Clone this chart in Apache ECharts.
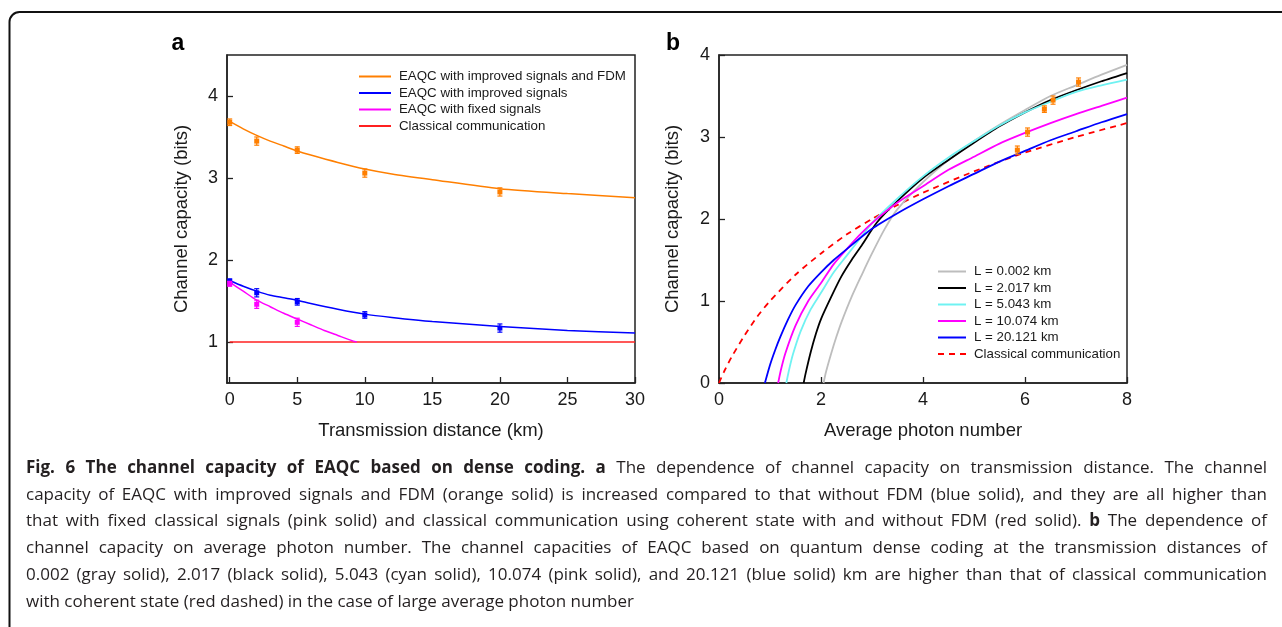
<!DOCTYPE html>
<html>
<head>
<meta charset="utf-8">
<script src="https://cdn.jsdelivr.net/npm/echarts@6/dist/echarts.min.js"></script>
<style>
html,body{margin:0;padding:0;background:#fff;}
#chart{width:1282px;height:627px;}
</style>
</head>
<body>
<div id="chart"></div>
<script>
// ---------- Panel a data ----------
const distTicks = [0, 5, 10, 15, 20, 25, 30];
const capTicksA = [1, 2, 3, 4];
const fdmX = [0, 1, 2, 3, 4, 5, 6, 8, 10, 12, 15, 20, 25, 30];
const fdmY = [3.69, 3.60, 3.52, 3.45, 3.39, 3.33, 3.28, 3.19, 3.11, 3.05, 2.98, 2.87, 2.81, 2.76];
const impX = [0, 1, 2, 3, 4, 5, 6, 8, 10, 12, 15, 20, 25, 30];
const impY = [1.75, 1.68, 1.62, 1.57, 1.54, 1.51, 1.47, 1.40, 1.34, 1.30, 1.25, 1.19, 1.14, 1.11];
const fixX = [0, 1, 2, 3, 4, 5, 6, 7, 8, 9, 9.4];
const fixY = [1.73, 1.62, 1.51, 1.43, 1.35, 1.28, 1.21, 1.14, 1.08, 1.02, 1.0];
const clsX = [0, 30];
const clsY = [1, 1];
// measured points [x, y, err]
const fdmPts = [[0, 3.68, 0.04], [2, 3.45, 0.05], [5, 3.34, 0.04], [10, 3.06, 0.05], [20, 2.83, 0.05]];
const impPts = [[0, 1.74, 0.03], [2, 1.60, 0.05], [5, 1.49, 0.04], [10, 1.33, 0.04], [20, 1.17, 0.05]];
const fixPts = [[0, 1.71, 0.03], [2, 1.46, 0.05], [5, 1.24, 0.05]];
const namesA = ['EAQC with improved signals and FDM', 'EAQC with improved signals', 'EAQC with fixed signals', 'Classical communication'];

// ---------- Panel b data ----------
const photonTicks = [0, 2, 4, 6, 8];
const capTicksB = [0, 1, 2, 3, 4];
const l0X = [2.05, 2.1, 2.2, 2.3, 2.4, 2.6, 2.8, 3.0, 3.25, 3.5, 4, 4.5, 5, 5.5, 6, 6.5, 7, 7.5, 8];
const l0Y = [0, 0.14, 0.36, 0.56, 0.74, 1.05, 1.32, 1.58, 1.88, 2.12, 2.45, 2.72, 2.95, 3.15, 3.33, 3.5, 3.63, 3.76, 3.88];
const l2X = [1.66, 1.7, 1.8, 1.9, 2.0, 2.2, 2.4, 2.6, 2.8, 3.1, 3.5, 4, 4.5, 5, 5.5, 6, 6.5, 7, 7.5, 8];
const l2Y = [0, 0.12, 0.38, 0.6, 0.78, 1.05, 1.3, 1.5, 1.68, 1.96, 2.22, 2.5, 2.72, 2.93, 3.13, 3.3, 3.45, 3.57, 3.68, 3.78];
const l5X = [1.32, 1.37, 1.45, 1.6, 1.8, 2.0, 2.25, 2.5, 2.75, 3.0, 3.5, 4, 4.5, 5, 5.5, 6, 6.5, 7, 7.5, 8];
const l5Y = [0, 0.15, 0.35, 0.63, 0.9, 1.1, 1.35, 1.55, 1.75, 1.95, 2.25, 2.52, 2.75, 2.95, 3.14, 3.3, 3.43, 3.55, 3.63, 3.70];
const l10X = [1.16, 1.21, 1.3, 1.5, 1.75, 2.0, 2.25, 2.5, 2.75, 3.0, 3.5, 4, 4.5, 5, 5.5, 6, 6.5, 7, 7.5, 8];
const l10Y = [0, 0.15, 0.36, 0.7, 1.0, 1.22, 1.45, 1.63, 1.8, 1.95, 2.2, 2.4, 2.6, 2.76, 2.92, 3.05, 3.17, 3.28, 3.38, 3.48];
const l20X = [0.9, 1.0, 1.1, 1.2, 1.35, 1.5, 1.75, 2.0, 2.25, 2.5, 3.0, 3.5, 4, 4.5, 5, 5.5, 6, 6.5, 7, 7.5, 8];
const l20Y = [0, 0.22, 0.4, 0.56, 0.77, 0.95, 1.18, 1.35, 1.5, 1.63, 1.88, 2.07, 2.24, 2.4, 2.55, 2.7, 2.83, 2.96, 3.07, 3.18, 3.28];
const ccX = [0, 0.1, 0.25, 0.5, 0.75, 1, 1.5, 2, 2.5, 3, 3.5, 4, 5, 6, 7, 8];
const ccY = [0, 0.14, 0.32, 0.58, 0.81, 1.0, 1.32, 1.58, 1.81, 2.0, 2.17, 2.32, 2.58, 2.81, 3.0, 3.17];
const expPts = [[5.85, 2.84, 0.05], [6.05, 3.06, 0.05], [6.38, 3.34, 0.04], [6.55, 3.45, 0.05], [7.05, 3.67, 0.05]];
const namesB = ['L = 0.002 km', 'L = 2.017 km', 'L = 5.043 km', 'L = 10.074 km', 'L = 20.121 km', 'Classical communication '];

// ---------- Caption ----------
const captionLines = [
  [['Fig. 6 The channel capacity of EAQC based on dense coding. a', true], ['The dependence of channel capacity on transmission distance. The channel', false]],
  [['capacity of EAQC with improved signals and FDM (orange solid) is increased compared to that without FDM (blue solid), and they are all higher than', false]],
  [['that with fixed classical signals (pink solid) and classical communication using coherent state with and without FDM (red solid).', false], ['b', true], ['The dependence of', false]],
  [['channel capacity on average photon number. The channel capacities of EAQC based on quantum dense coding at the transmission distances of', false]],
  [['0.002 (gray solid), 2.017 (black solid), 5.043 (cyan solid), 10.074 (pink solid), and 20.121 (blue solid) km are higher than that of classical communication', false]],
  [['with coherent state (red dashed) in the case of large average photon number', false]]
];

const FONT = 'Liberation Sans, Arial, Helvetica, sans-serif';
const TXT = '#1a1a1a';
const zip = (xs, ys) => xs.map((x, i) => [x, ys[i]]);

function errItem(params, api) {
  const x = api.value(0), y = api.value(1), e = api.value(2);
  const p = api.coord([x, y]);
  const hi = api.coord([x, y + e]);
  const lo = api.coord([x, y - e]);
  const col = api.visual('color');
  return {
    type: 'group',
    children: [
      { type: 'line', shape: { x1: p[0], y1: hi[1], x2: p[0], y2: lo[1] }, style: { stroke: col, lineWidth: 1.2 } },
      { type: 'line', shape: { x1: p[0] - 2.5, y1: hi[1], x2: p[0] + 2.5, y2: hi[1] }, style: { stroke: col, lineWidth: 1.2 } },
      { type: 'line', shape: { x1: p[0] - 2.5, y1: lo[1], x2: p[0] + 2.5, y2: lo[1] }, style: { stroke: col, lineWidth: 1.2 } },
      { type: 'rect', shape: { x: p[0] - 2.5, y: p[1] - 2.5, width: 5, height: 5 }, style: { fill: col } }
    ]
  };
}

function lineSeries(name, xs, ys, color, idx, width, dashed) {
  return {
    name: name, type: 'line', xAxisIndex: idx, yAxisIndex: idx,
    data: zip(xs, ys), showSymbol: false, symbol: 'none',
    smooth: 0.25,
    lineStyle: { color: color, width: width, type: dashed ? [6, 5] : 'solid' },
    itemStyle: { color: color }, z: 3, silent: true
  };
}
function ptsSeries(name, pts, color, idx) {
  return {
    name: name, type: 'custom', xAxisIndex: idx, yAxisIndex: idx,
    data: pts, renderItem: errItem, encode: { x: 0, y: 1 },
    itemStyle: { color: color }, z: 5, silent: true
  };
}

function axisCommon(ticks, name, gap, isY) {
  return {
    type: 'value',
    axisLine: { show: true, onZero: false, lineStyle: { color: '#222', width: 1.5 } },
    axisTick: { show: true, inside: true, length: 6, customValues: ticks, lineStyle: { color: '#222', width: 1.3 } },
    axisLabel: { customValues: ticks, fontSize: 18, fontFamily: FONT, color: TXT, margin: isY ? 9 : 8 },
    splitLine: { show: false },
    name: name, nameLocation: 'middle', nameGap: gap,
    nameTextStyle: { fontSize: 18.5, fontFamily: FONT, color: TXT }
  };
}

// caption layout (justified words); font size chosen so the widest line fits
const capLeft = 26, capRight = 1267, capTop = 468, capStep = 26.8, capFont = '"Open Sans", "Noto Sans", sans-serif';
const mctx = document.createElement('canvas').getContext('2d');
function mw(t, b, s) { mctx.font = (b ? 'bold ' : '') + s + 'px ' + capFont; return mctx.measureText(t).width; }
const lineWords = captionLines.map(segs => {
  const words = [];
  segs.forEach(([t, b]) => t.split(' ').filter(s => s).forEach(w => words.push({ w: w, b: b })));
  return words;
});
function naturalWidth(words, s) {
  return words.reduce((a, o) => a + mw(o.w, o.b, s), 0) + (words.length - 1) * mw(' ', false, s);
}
let maxNat = 0;
lineWords.slice(0, 5).forEach(ws => { maxNat = Math.max(maxNat, naturalWidth(ws, 10)); });
const capSize = Math.min(17, 10 * (capRight - capLeft - 6) / maxNat);
const captionGraphics = [];
lineWords.forEach((words, li) => {
  const widths = words.map(o => mw(o.w, o.b, capSize));
  const total = widths.reduce((a, c) => a + c, 0);
  const justify = li < lineWords.length - 1;
  const gap = justify ? (capRight - capLeft - total) / (words.length - 1) : mw(' ', false, capSize);
  let x = capLeft;
  words.forEach((o, i) => {
    captionGraphics.push({
      type: 'text', x: x, y: capTop + li * capStep, silent: true,
      style: { text: o.w, fontSize: capSize, fontFamily: capFont, fontWeight: o.b ? 'bold' : 'normal', fill: '#231f20', verticalAlign: 'middle', align: 'left' }
    });
    x += widths[i] + gap;
  });
});

const chart = echarts.init(document.getElementById('chart'), null, { renderer: 'canvas' });
const option = {
  backgroundColor: '#fff',
  animation: false,
  grid: [
    { left: 227, top: 55, width: 408, height: 328, show: true, borderColor: '#222', borderWidth: 1.5, backgroundColor: 'transparent' },
    { left: 719, top: 55, width: 408, height: 328, show: true, borderColor: '#222', borderWidth: 1.5, backgroundColor: 'transparent' }
  ],
  xAxis: [
    Object.assign(axisCommon(distTicks, 'Transmission distance (km)', 38, false), { gridIndex: 0, min: -0.2, max: 30 }),
    Object.assign(axisCommon(photonTicks, 'Average photon number', 38, false), { gridIndex: 1, min: 0, max: 8 })
  ],
  yAxis: [
    Object.assign(axisCommon(capTicksA, 'Channel capacity (bits)', 36, true), { gridIndex: 0, min: 0.5, max: 4.5 }),
    Object.assign(axisCommon(capTicksB, 'Channel capacity (bits)', 37, true), { gridIndex: 1, min: 0, max: 4 })
  ],
  legend: [
    {
      data: namesA, orient: 'vertical', left: 358, top: 70, padding: 0,
      itemWidth: 32, itemHeight: 14, itemGap: 3.5,
      itemStyle: { opacity: 0 },
      textStyle: { fontSize: 13.3, fontFamily: FONT, color: TXT, padding: [0, 0, 0, 3] },
      selectedMode: false
    },
    {
      data: namesB, orient: 'vertical', left: 937, top: 265, padding: 0,
      itemWidth: 28, itemHeight: 12, itemGap: 3.5,
      itemStyle: { opacity: 0 },
      textStyle: { fontSize: 13.3, fontFamily: FONT, color: TXT, padding: [0, 0, 0, 3] },
      selectedMode: false
    }
  ],
  graphic: [
    { type: 'text', x: 178, y: 44, silent: true, style: { text: 'a', fontSize: 23, fontWeight: 'bold', fontFamily: FONT, fill: '#000', align: 'center', verticalAlign: 'middle' } },
    { type: 'text', x: 673, y: 44, silent: true, style: { text: 'b', fontSize: 23, fontWeight: 'bold', fontFamily: FONT, fill: '#000', align: 'center', verticalAlign: 'middle' } },
    { type: 'rect', silent: true, shape: { x: 9.5, y: 12, width: 1400, height: 800, r: [10, 0, 0, 0] }, style: { stroke: '#111', lineWidth: 2, fill: 'transparent' } }
  ].concat(captionGraphics),
  series: [
    lineSeries(namesA[3], clsX, clsY, '#ff2020', 0, 1.5, false),
    lineSeries(namesA[2], fixX, fixY, '#ff00ff', 0, 1.5, false),
    lineSeries(namesA[1], impX, impY, '#0000ff', 0, 1.5, false),
    lineSeries(namesA[0], fdmX, fdmY, '#ff7f00', 0, 1.5, false),
    ptsSeries('ptsFDM', fdmPts, '#ff7f00', 0),
    ptsSeries('ptsImp', impPts, '#0000ff', 0),
    ptsSeries('ptsFix', fixPts, '#ff00ff', 0),
    lineSeries(namesB[5], ccX, ccY, '#ff0000', 1, 1.8, true),
    lineSeries(namesB[0], l0X, l0Y, '#bdbdbd', 1, 1.8, false),
    lineSeries(namesB[1], l2X, l2Y, '#000000', 1, 1.8, false),
    lineSeries(namesB[2], l5X, l5Y, '#6ff2f2', 1, 1.8, false),
    lineSeries(namesB[3], l10X, l10Y, '#ff00ff', 1, 1.8, false),
    lineSeries(namesB[4], l20X, l20Y, '#0000ff', 1, 1.8, false),
    ptsSeries('ptsExp', expPts, '#ff7f00', 1)
  ]
};
chart.setOption(option);
</script>
</body>
</html>
